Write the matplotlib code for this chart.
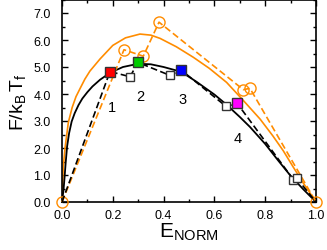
import matplotlib
matplotlib.use("Agg")
import matplotlib.pyplot as plt
from matplotlib.ticker import MultipleLocator, FormatStrFormatter

plt.rcParams['font.family'] = ['Liberation Sans', 'DejaVu Sans']
plt.rcParams['mathtext.fontset'] = 'custom'
plt.rcParams['mathtext.rm'] = 'Liberation Sans'
plt.rcParams['mathtext.it'] = 'Liberation Sans'
plt.rcParams['mathtext.default'] = 'regular'

ORANGE = '#FF8C00'

# Black solid free-energy profile
black_E = [0.0, 0.006, 0.01, 0.014, 0.02, 0.028, 0.038, 0.05, 0.065, 0.08, 0.10,
           0.12, 0.15, 0.19, 0.24, 0.30, 0.35, 0.40, 0.47, 0.53, 0.60, 0.646,
           0.70, 0.74, 0.80, 0.85, 0.90, 0.95, 1.0]
black_F = [0.0, 0.45, 0.9, 1.4, 2.05, 2.55, 2.98, 3.29, 3.59, 3.83, 4.07,
           4.28, 4.53, 4.79, 5.0, 5.12, 5.1, 5.0, 4.82, 4.45, 3.98, 3.62,
           3.15, 2.78, 2.15, 1.55, 0.97, 0.47, 0.0]

# Orange solid free-energy profile
orange_E = [0.0, 0.002, 0.005, 0.012, 0.025, 0.04, 0.055, 0.071, 0.09, 0.11,
            0.15, 0.2, 0.25, 0.307, 0.35, 0.386, 0.45, 0.517, 0.58, 0.648,
            0.71, 0.78, 0.83, 0.871, 0.91, 0.95, 1.0]
orange_F = [0.0, 0.5, 1.3, 2.0, 2.95, 3.5, 3.9, 4.2, 4.55, 4.85,
            5.3, 5.8, 6.08, 6.22, 6.18, 6.06, 5.75, 5.36, 4.95, 4.43,
            3.8, 3.07, 2.45, 1.9, 1.3, 0.7, 0.0]

# Black dashed path (zigzag between open and filled squares)
path_E = [0.0, 0.189, 0.268, 0.299, 0.425, 0.469, 0.646, 0.690, 0.911, 0.924, 1.0]
path_F = [0.0, 4.83, 4.64, 5.17, 4.69, 4.89, 3.54, 3.65, 0.83, 0.88, 0.0]

# Open squares
open_E = [0.268, 0.425, 0.646, 0.911, 0.924]
open_F = [4.64, 4.69, 3.54, 0.83, 0.88]

# Filled squares
filled_E = [0.189, 0.299, 0.469, 0.690]
filled_F = [4.83, 5.17, 4.89, 3.65]
filled_colors = ['#FF0000', '#00CC00', '#0000FF', '#FF00FF']

# Orange dashed with circles
circ_E = [0.0, 0.244, 0.320, 0.382, 0.714, 0.740, 1.0]
circ_F = [0.0, 5.64, 5.40, 6.66, 4.16, 4.21, 0.0]

labels = ['1', '2', '3', '4']
label_E = [0.198, 0.307, 0.474, 0.690]
label_F = [3.50, 3.92, 3.80, 2.36]

fig = plt.figure(figsize=(3.27, 2.51), dpi=100)
ax = fig.add_axes([62/327, 48/251, 254/327, 202.5/251])

ax.plot(orange_E, orange_F, color=ORANGE, lw=1.2, zorder=2)
ax.plot(black_E, black_F, color='black', lw=1.3, zorder=3)
ax.plot(circ_E, circ_F, color=ORANGE, lw=1.2, ls=(0, (4, 2)), marker='o',
        ms=8, mfc='none', mec=ORANGE, mew=1.0, zorder=4, clip_on=False)
ax.plot(path_E, path_F, color='black', lw=1.2, ls=(0, (4, 2)), zorder=4)
ax.plot(open_E, open_F, ls='none', marker='s', ms=6, mfc='white',
        mec='#333333', mew=1.0, zorder=5)
for e, f, c in zip(filled_E, filled_F, filled_colors):
    ax.plot([e], [f], ls='none', marker='s', ms=7, mfc=c, mec='#333333',
            mew=1.0, zorder=6)
for t, e, f in zip(labels, label_E, label_F):
    ax.text(e, f, t, fontsize=10.5, ha='center', va='center')

ax.set_xlim(0, 1.0)
ax.set_ylim(0, 7.5)
ax.xaxis.set_major_locator(MultipleLocator(0.2))
ax.xaxis.set_minor_locator(MultipleLocator(0.1))
ax.yaxis.set_major_locator(MultipleLocator(1.0))
ax.yaxis.set_minor_locator(MultipleLocator(0.5))
ax.xaxis.set_major_formatter(FormatStrFormatter('%.1f'))
ax.yaxis.set_major_formatter(FormatStrFormatter('%.1f'))
ax.tick_params(which='both', direction='in', top=True, right=True, width=1.0)
ax.tick_params(which='major', length=4)
ax.tick_params(which='minor', length=2.5)
ax.tick_params(axis='x', which='major', labelsize=9, pad=5)
ax.tick_params(axis='y', which='major', labelsize=9, pad=8)
for s in ax.spines.values():
    s.set_linewidth(1.2)

ax.set_xlabel(r'$E_{NORM}$', fontsize=15, labelpad=0)
ax.set_ylabel(r'$F/k_B\,T_f$', fontsize=14, labelpad=4)

fig.savefig('out.png', dpi=100)
